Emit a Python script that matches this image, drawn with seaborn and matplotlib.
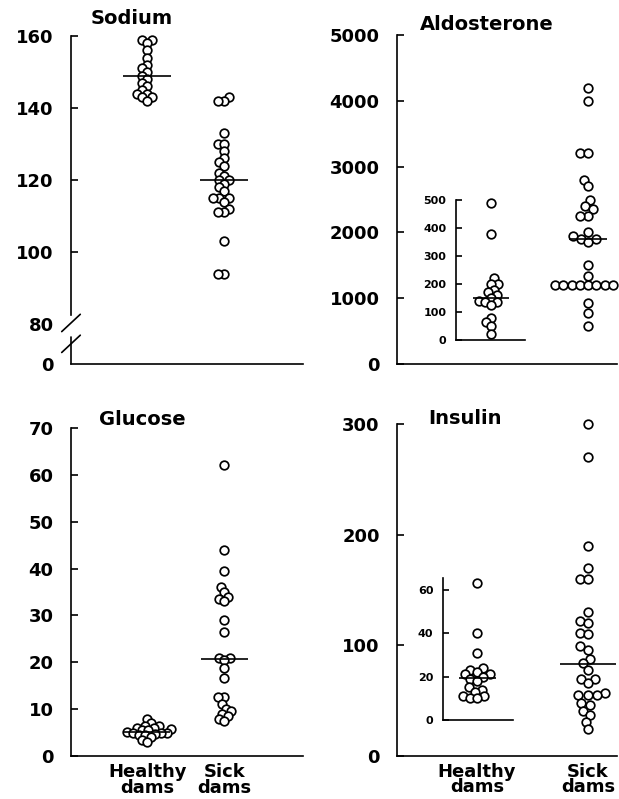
import numpy as np
import pandas as pd
import matplotlib
matplotlib.use("Agg")
import matplotlib.pyplot as plt
import matplotlib.transforms as mtransforms
import seaborn as sns

# ---------------- data ----------------
groups = ["Healthy dams", "Sick dams"]
group_labels = ["Healthy\ndams", "Sick\ndams"]

sodium_healthy = [159, 159, 158, 156, 154, 152, 151, 150, 149, 148, 147, 146,
                  145, 144, 144, 143, 143, 142]
sodium_sick = [143, 142, 142, 133, 130, 130, 128, 126, 125, 124, 122, 121, 120,
               120, 119, 118, 117, 115, 115, 115, 114, 112, 111, 111, 103, 94, 94]
sodium_lines = [149, 120]
sodium_ticks = [80, 100, 120, 140, 160]

aldo_healthy = [490, 380, 220, 200, 200, 180, 170, 160, 150, 140, 135, 135, 125,
                80, 65, 50, 20]
aldo_sick = [4200, 4000, 3200, 3200, 2800, 2700, 2500, 2400, 2350, 2250, 2250,
             2000, 1950, 1900, 1900, 1850, 1500, 1330, 1200, 1200, 1200, 1200,
             1200, 1200, 1200, 1200, 930, 780, 580]
aldo_lines = [150, 1900]
aldo_ticks = [0, 1000, 2000, 3000, 4000, 5000]
aldo_inset_ticks = [0, 100, 200, 300, 400, 500]

glucose_healthy = [8, 7, 6.5, 6.5, 6, 6, 5.8, 5.5, 5.5, 5.2, 5, 5, 5, 4.8, 4.5,
                   4.5, 4, 3.5, 3]
glucose_sick = [62, 44, 39.5, 36, 35, 34, 33.5, 33, 29, 26.4, 21, 21, 20.5, 18.8,
                16.6, 12.5, 12.5, 11, 10, 9.5, 9, 8.5, 8, 7.5]
glucose_lines = [5.1, 20.8]
glucose_ticks = [0, 10, 20, 30, 40, 50, 60, 70]

insulin_healthy = [63, 40, 31, 24, 23, 22, 21, 21, 20, 19, 18, 15, 14, 13, 11,
                   11, 10, 10]
insulin_sick = [300, 270, 190, 170, 160, 160, 130, 122, 120, 111, 110, 99, 96, 88,
                84, 78, 70, 70, 66, 57, 55, 55, 55, 48, 46, 41, 37, 31, 24]
insulin_lines = [19.5, 83]
insulin_ticks = [0, 100, 200, 300]
insulin_inset_ticks = [0, 20, 40, 60]

titles = ["Sodium", "Aldosterone", "Glucose", "Insulin"]

# ---------------- style ----------------
sns.set_style("ticks")
plt.rcParams["font.family"] = ["DejaVu Sans"]
plt.rcParams["font.weight"] = "bold"

W, H = 619, 799
fig = plt.figure(figsize=(W / 100, H / 100), dpi=100)


def box(x0, ytop, x1, ybot):
    return [x0 / W, 1 - ybot / H, (x1 - x0) / W, (ybot - ytop) / H]


LW = 1.2
MS = 6.2          # displayed marker diameter (pt)
pending = []      # swarm collections whose marker size is enlarged after layout


def make_df(healthy, sick):
    g = [groups[0]] * len(healthy) + [groups[1]] * len(sick)
    return pd.DataFrame({"group": g, "value": list(healthy) + list(sick)})


def style_axis(ax, fs=13, pad=12.5, ticklen=5):
    sns.despine(ax=ax)
    for s in ("left", "bottom"):
        ax.spines[s].set_linewidth(LW)
        ax.spines[s].set_color("black")
    ax.tick_params(axis="y", direction="in", length=ticklen, width=LW,
                   labelsize=fs, pad=pad, colors="black")
    ax.tick_params(axis="x", length=0, labelsize=13, pad=5, colors="black")
    ax.set_xlabel("")
    ax.set_ylabel("")


def swarm(ax, x, y, order, nominal):
    n0 = len(ax.collections)
    sns.swarmplot(x=x, y=y, order=order, ax=ax, color="white",
                  edgecolor="black", linewidth=1.25, size=nominal, zorder=3,
                  warn_thresh=1.0)
    for c in ax.collections[n0:]:
        c.set_clip_on(False)
        pending.append(c)


def swarm_df(ax, df, order, nominal):
    swarm(ax, df["group"], df["value"], order, nominal)


def median_lines(ax, values, positions, hw):
    for v, p in zip(values, positions):
        ax.hlines(v, p - hw, p + hw, color="black", lw=LW, zorder=4)


# ---------------- Sodium (broken axis) ----------------
SODIUM_BOTTOM = 68.9
ax1 = fig.add_axes(box(71, 36, 303, 364))
swarm_df(ax1, make_df(sodium_healthy, sodium_sick), groups, 3.0)
ax1.set_ylim(SODIUM_BOTTOM, 160)
ax1.set_xlim(-0.99, 2.02)
median_lines(ax1, sodium_lines, [0, 1], 0.31)
style_axis(ax1)
ax1.set_yticks([SODIUM_BOTTOM] + sodium_ticks)
ax1.set_yticklabels(["0"] + [str(t) for t in sodium_ticks])
ax1.set_xticks([])
ticks = ax1.yaxis.get_major_ticks()
for t in ticks[:2]:
    t.tick1line.set_visible(False)
ax1.spines["left"].set_bounds(82.6, 160)
tr = mtransforms.blended_transform_factory(ax1.transAxes, ax1.transData)
ax1.plot([0, 0], [SODIUM_BOTTOM, 76.4], transform=tr, color="black", lw=LW,
         clip_on=False)
for yc in (80.3, 74.5):
    ax1.plot([-0.04, 0.04], [yc - 2.4, yc + 2.4], transform=tr, color="black",
             lw=LW, clip_on=False)

# ---------------- Aldosterone ----------------
ax2 = fig.add_axes(box(397, 35, 617, 364))
swarm_df(ax2, make_df([], aldo_sick), groups, 4.4)
ax2.set_ylim(0, 5000)
ax2.set_xlim(-0.72, 1.26)
median_lines(ax2, aldo_lines[1:], [1], 0.17)
style_axis(ax2)
ax2.set_yticks(aldo_ticks)
ax2.set_yticklabels([str(t) for t in aldo_ticks])
ax2.set_xticks([])

ax2i = fig.add_axes(box(456, 200, 525, 340))
swarm(ax2i, [groups[0]] * len(aldo_healthy), aldo_healthy, None, 3.3)
ax2i.set_ylim(0, 500)
ax2i.set_xlim(-0.51, 0.49)
median_lines(ax2i, aldo_lines[:1], [0], 0.26)
style_axis(ax2i, fs=8, pad=7, ticklen=4)
ax2i.set_yticks(aldo_inset_ticks)
ax2i.set_yticklabels([str(t) for t in aldo_inset_ticks])
ax2i.set_xticks([])
ax2i.patch.set_alpha(0)

# ---------------- Glucose ----------------
ax3 = fig.add_axes(box(71, 428, 303, 756))
swarm_df(ax3, make_df(glucose_healthy, glucose_sick), groups, 2.8)
ax3.set_ylim(0, 70)
ax3.set_xlim(-0.99, 2.02)
median_lines(ax3, glucose_lines, [0, 1], 0.3)
style_axis(ax3)
ax3.set_yticks(glucose_ticks)
ax3.set_yticklabels([str(t) for t in glucose_ticks])
ax3.set_xticks([0, 1])
ax3.set_xticklabels(group_labels, linespacing=0.85, fontsize=13,
                    fontweight="bold")

# ---------------- Insulin ----------------
ax4 = fig.add_axes(box(397, 424, 617, 756))
swarm_df(ax4, make_df([], insulin_sick), groups, 4.6)
ax4.set_ylim(0, 300)
ax4.set_xlim(-0.72, 1.26)
median_lines(ax4, insulin_lines[1:], [1], 0.25)
style_axis(ax4)
ax4.set_yticks(insulin_ticks)
ax4.set_yticklabels([str(t) for t in insulin_ticks])
ax4.set_xticks([0, 1])
ax4.set_xticklabels(group_labels, linespacing=0.8, fontsize=13,
                    fontweight="bold")

ax4i = fig.add_axes(box(443, 578, 513, 720))
swarm(ax4i, [groups[0]] * len(insulin_healthy), insulin_healthy, None, 3.8)
ax4i.set_ylim(0, 65.5)
ax4i.set_xlim(-0.49, 0.51)
median_lines(ax4i, insulin_lines[:1], [0], 0.26)
style_axis(ax4i, fs=8, pad=7, ticklen=4)
ax4i.set_yticks(insulin_inset_ticks)
ax4i.set_yticklabels([str(t) for t in insulin_inset_ticks])
ax4i.set_xticks([])
ax4i.patch.set_alpha(0)

# ---------------- titles ----------------
for (txt, (px, py)) in zip(titles, [(132, 18), (487, 24), (142, 419), (465, 418)]):
    fig.text(px / W, 1 - py / H, txt, ha="center", va="center", fontsize=14,
             fontweight="bold", color="black")

# compute the swarms with the nominal sizes, then freeze them and enlarge the
# circles so that dense clusters overlap as in the original figure
fig.canvas.draw()
for c in pending:
    if "draw" in c.__dict__:
        del c.draw
    c.set_sizes([MS ** 2])

fig.savefig("out.png", dpi=100)
